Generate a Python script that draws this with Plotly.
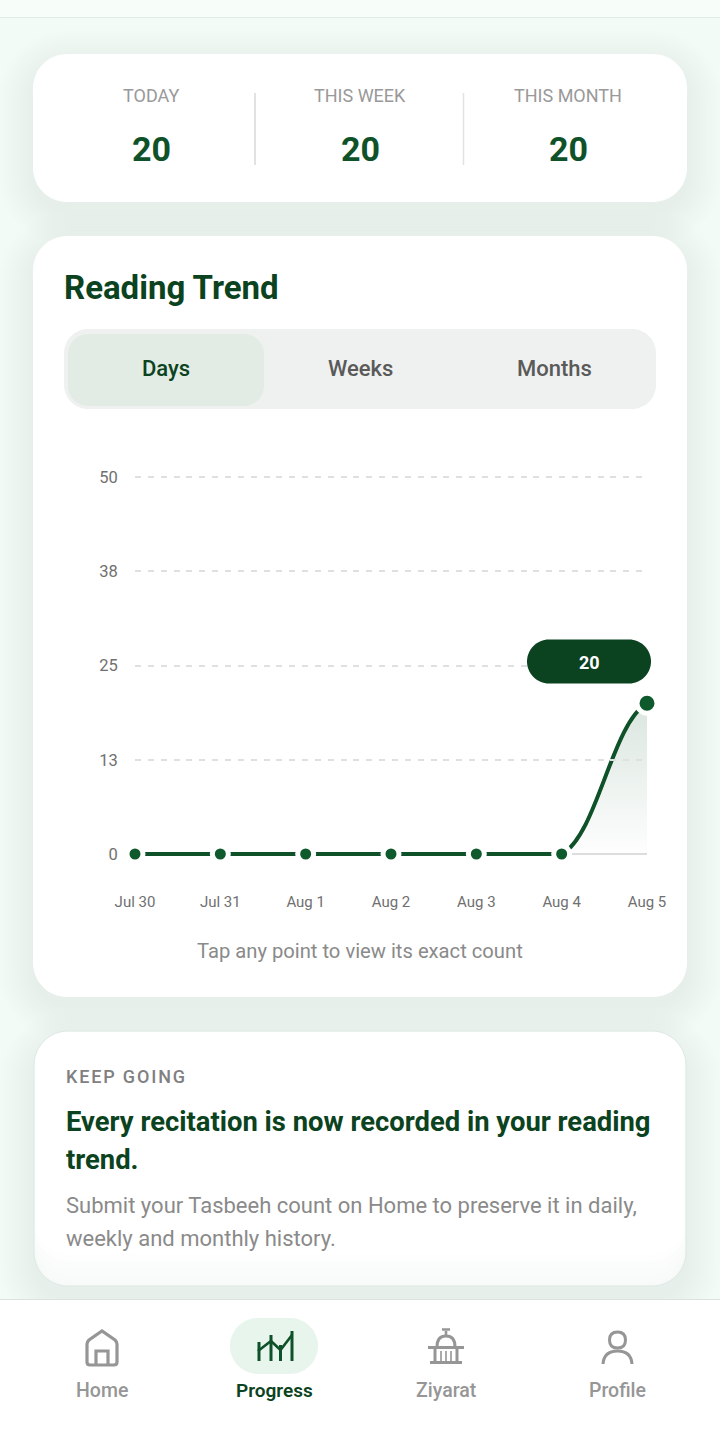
import re
import plotly.graph_objects as go

W = 720
H = 1434

# chart data
days = ["Jul 30", "Jul 31", "Aug 1", "Aug 2", "Aug 3", "Aug 4", "Aug 5"]
counts = [0, 0, 0, 0, 0, 0, 20]
y_ticks = [0, 12.5, 25, 37.5, 50]
y_labels = ["0", "13", "25", "38", "50"]

stat_labels = ["TODAY", "THIS WEEK", "THIS MONTH"]
stat_values = ["20", "20", "20"]
tabs = ["Days", "Weeks", "Months"]
nav_labels = ["Home", "Progress", "Ziyarat", "Profile"]

DARK = "#0b4220"
GREEN = "#0f5229"
GREY = "#969696"

positions = list(range(len(days)))


# everything below the chart is laid out in screen pixels
def to_paper(match):
    return f"{float(match.group(1)) / W:.5f},{1 - float(match.group(2)) / H:.5f}"


def px_path(path):
    return re.sub(r"(-?[\d.]+),(-?[\d.]+)", to_paper, path)


def round_rect(x0, y0, x1, y1, r):
    k = r * 0.45  # control point inset for a round corner
    return (f"M{x0 + r},{y0} L{x1 - r},{y0} C{x1 - k},{y0} {x1},{y0 + k} {x1},{y0 + r} L{x1},{y1 - r} "
            f"C{x1},{y1 - k} {x1 - k},{y1} {x1 - r},{y1} L{x0 + r},{y1} C{x0 + k},{y1} {x0},{y1 - k} {x0},{y1 - r} "
            f"L{x0},{y0 + r} C{x0},{y0 + k} {x0 + k},{y0} {x0 + r},{y0} Z")


shapes = []


def fill(path, color, layer="below", line=None, width=0):
    shapes.append(dict(type="path", path=px_path(path), xref="paper", yref="paper", layer=layer,
                       fillcolor=color, line=dict(color=line or "rgba(0,0,0,0)", width=width)))


def stroke(path, color, width=3, layer="above"):
    shapes.append(dict(type="path", path=px_path(path), xref="paper", yref="paper", layer=layer,
                       line=dict(color=color, width=width)))


def shadow(x0, y0, x1, y1, r, reach=34, drop=10, alpha=0.003):
    for i in range(reach, 0, -3):
        fill(round_rect(x0 - i, y0 - i + drop, x1 + i, y1 + i + drop, r + i),
             f"rgba(20,60,40,{alpha})")


texts = []


def text(x, y, s, size, color, weight=400, anchor="center"):
    texts.append(dict(x=x / W, y=1 - y / H, xref="paper", yref="paper", text=s, showarrow=False,
                      xanchor=anchor, yanchor="middle",
                      font=dict(family="Roboto", size=size, color=color, weight=weight)))


# page
fill(f"M0,0 L{W},0 L{W},{H} L0,{H} Z", "#f2fbf6")
fill(f"M0,0 L{W},0 L{W},17 L0,17 Z", "#f7fdf9")
stroke(f"M0,17.5 L{W},17.5", "#e2ece6", 1, "below")

# cards
shadow(33, 54, 687, 202, 34, alpha=0.003)
shadow(33, 236, 687, 997, 34, alpha=0.004)
shadow(34, 1031, 686, 1286, 34, drop=14, alpha=0.0045)
fill(round_rect(33, 54, 687, 202, 34), "#ffffff")
fill(round_rect(33, 236, 687, 997, 34), "#ffffff")
fill(round_rect(34, 1031, 686, 1286, 34), "#f7faf8", line="#dfe9e3", width=1)
for i, c in enumerate(["#f8fbf9", "#fafcfb", "#fbfdfc", "#fdfefd", "#ffffff"]):
    fill(round_rect(35, 1032, 685, 1282 - i * 7, 33), c)

# stat strip
for x, label, value in zip([151, 360, 568], stat_labels, stat_values):
    text(x, 96, label, 18, "#999999")
    text(x, 149, value, 34, GREEN, 700)
stroke("M255,93 L255,165", "#d9d9d9", 1.5, "below")
stroke("M463.5,93 L463.5,165", "#e2e2e2", 1.5, "below")

# tabs
text(62, 288, "Reading Trend", 33, DARK, 700, "left")
fill(round_rect(64, 329, 656, 409, 24), "#eff1f0")
fill(round_rect(68, 334, 264, 406, 20), "#e2ece5")
text(166, 368, tabs[0], 22, DARK, 500)
text(360, 368, tabs[1], 22, "#5a5a5a", 500)
text(554, 368, tabs[2], 22, "#5a5a5a", 500)

# value pill
fill(round_rect(527, 639.5, 651, 683.5, 22), DARK, "above")
text(589, 662, "20", 18, "#ffffff", 700)

text(360, 951, "Tap any point to view its exact count", 20.2, "#8a8a8a")

# note card
text(64, 1076, "KEEP GOING", 18, "#808080", 500, "left")
texts[-1]["text"] = "K\u200aE\u200aE\u200aP\u2009 G\u200aO\u200aI\u200aN\u200aG"
text(64, 1121.5, "Every recitation is now recorded in your reading", 27.4, DARK, 700, "left")
text(64, 1159.5, "trend.", 27.4, DARK, 700, "left")
text(64, 1205, "Submit your Tasbeeh count on Home to preserve it in daily,", 22, "#8a8a8a", 400, "left")
text(64, 1238, "weekly and monthly history.", 22, "#8a8a8a", 400, "left")

# bottom nav
fill(f"M0,1300 L{W},1300 L{W},{H} L0,{H} Z", "#ffffff")
stroke(f"M0,1299.5 L{W},1299.5", "#d9e4dd", 1, "below")
fill(round_rect(230, 1318, 318, 1374, 28), "#e8f5ed")
for x, label in zip([102, 274, 446, 617.5], nav_labels):
    active = label == "Progress"
    text(x, 1390.5, label, 19 if active else 19.5, DARK if active else GREY, 600 if active else 500)

# home icon
stroke("M87,1362 L87,1344 Q87,1342 89,1340 L102,1331 L115,1340 Q117,1342 117,1344 L117,1362 Q117,1365 114,1365 "
       "L90,1365 Q87,1365 87,1362 Z", GREY, 3.2)
stroke("M96,1365 L96,1351 L108,1351 L108,1365", GREY, 3.2)
# progress icon
stroke("M259,1361 L259,1342 M271,1361 L271,1335 M280.5,1361 L280.5,1345 M292,1361 L292,1331", GREEN, 3)
stroke("M258,1351 L271,1341 L280.5,1350 L292,1335", GREEN, 2.6)
# ziyarat icon
stroke("M428,1347.5 L464,1347.5 M430,1362.5 L462,1362.5 M435,1349 L435,1362 M457,1349 L457,1362", GREY, 3)
stroke("M437,1347 Q437,1336 446,1336 Q455,1336 455,1347", GREY, 3)
stroke("M446,1336 L446,1331 M442,1329.5 L450,1329.5", GREY, 2.6)
stroke("M441,1351 L441,1361 M446,1351 L446,1361 M451,1351 L451,1361", GREY, 1.6)
# profile icon
stroke("M617.5,1332 Q625.5,1332 625.5,1340 Q625.5,1348 617.5,1348 Q609.5,1348 609.5,1340 Q609.5,1332 617.5,1332 Z", GREY, 3)
stroke("M603,1364 Q604,1351 617.5,1351 Q631,1351 632,1364", GREY, 3)

fig = go.Figure()

# last step of the curve: neighbours repeated past each end so the spline leaves at a slope, the axis clips them
curve_x = [positions[4], positions[5], positions[6], positions[6] + 1]
curve_y = [counts[4], counts[5], counts[6], counts[6]]
fig.add_trace(go.Scatter(
    x=curve_x, y=curve_y, mode="lines", xaxis="x", yaxis="y",
    line=dict(color=GREEN, width=4, shape="spline", smoothing=1.0),
    fill="tozeroy",
    fillgradient=dict(type="vertical", colorscale=[[0, "rgba(15,90,44,0)"], [1, "rgba(15,90,44,0.16)"]]),
    hoverinfo="skip", showlegend=False,
))
fig.add_trace(go.Scatter(
    x=positions[:6], y=counts[:6], mode="lines", xaxis="x2", yaxis="y2", cliponaxis=False,
    line=dict(color=GREEN, width=4), hoverinfo="skip", showlegend=False,
))
fig.add_trace(go.Scatter(
    x=positions, y=counts, mode="markers", xaxis="x2", yaxis="y2", cliponaxis=False,
    marker=dict(color="#0f5a2c", size=[16] * 6 + [20], opacity=1, line=dict(color="#ffffff", width=5)),
    showlegend=False,
))

# value axis runs a little past 0 and 50 so the end gridlines are kept
y_range = [-2, 52]
px_per_unit = (854 - 477) / 50
x_left = 135 / W
x_right = 647 / W
y_bottom = 1 - (854 + 2 * px_per_unit) / H
y_top = 1 - (477 - 2 * px_per_unit) / H

fig.update_layout(
    width=W,
    height=H,
    margin=dict(l=0, r=0, t=0, b=0, autoexpand=False),
    paper_bgcolor="#f2fbf6",
    plot_bgcolor="rgba(0,0,0,0)",
    font=dict(family="Roboto"),
    shapes=shapes,
    annotations=texts,
    xaxis=dict(domain=[562.33 / W, x_right], range=[5, 6], visible=False, anchor="y"),
    yaxis=dict(domain=[y_bottom, y_top], range=y_range, visible=False, anchor="x"),
    xaxis2=dict(
        domain=[x_left, x_right], range=[0, 6], anchor="y2",
        tickvals=positions, ticktext=days,
        showgrid=False, zeroline=False, showline=False,
        ticks="outside", ticklen=19, tickcolor="rgba(0,0,0,0)",
        tickfont=dict(size=15, color="#707070"),
    ),
    yaxis2=dict(
        domain=[y_bottom, y_top], range=y_range, anchor="x2",
        tickvals=y_ticks, ticktext=y_labels,
        showgrid=True, gridcolor="#e0e0e0", griddash="6px,6.85px", gridwidth=1.5,
        zeroline=True, zerolinecolor="#dddddd", zerolinewidth=1.5, showline=False,
        ticks="outside", ticklen=13, tickcolor="rgba(0,0,0,0)",
        tickfont=dict(size=16.5, color="#707070"),
    ),
)

fig.write_html("out.html", config=dict(displayModeBar=False),
               post_script="document.body.style.margin='0';document.body.style.overflow='hidden';")
